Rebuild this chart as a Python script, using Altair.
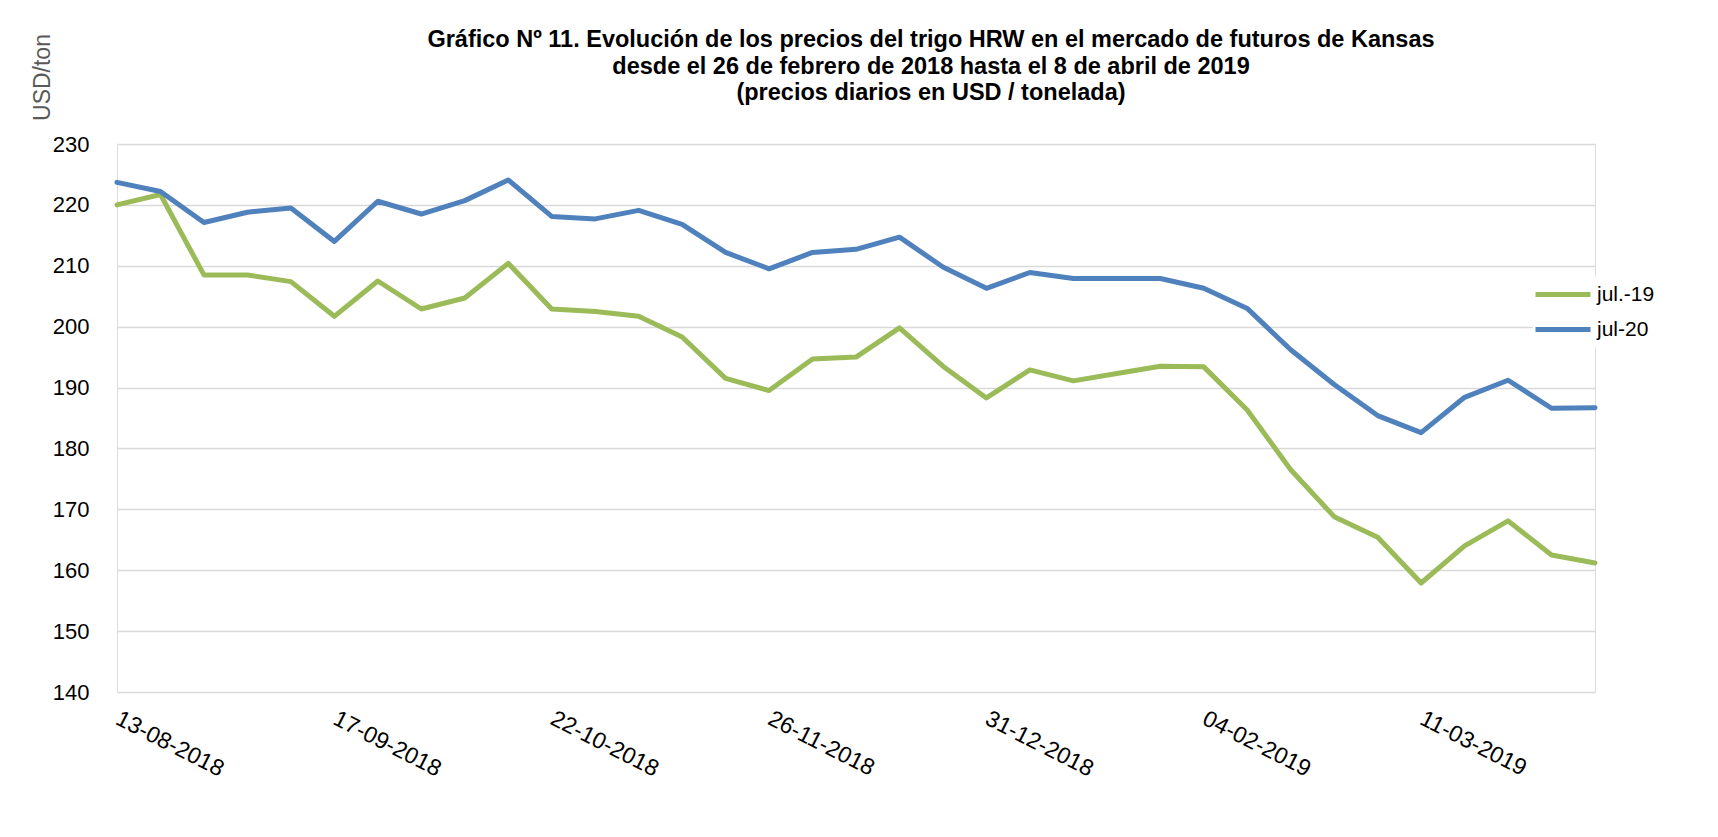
import altair as alt
import pandas as pd

dates = [
    "13-08-2018", "20-08-2018", "27-08-2018", "03-09-2018", "10-09-2018",
    "17-09-2018", "24-09-2018", "01-10-2018", "08-10-2018", "15-10-2018",
    "22-10-2018", "29-10-2018", "05-11-2018", "12-11-2018", "19-11-2018",
    "26-11-2018", "03-12-2018", "10-12-2018", "17-12-2018", "24-12-2018",
    "31-12-2018", "07-01-2019", "14-01-2019", "21-01-2019", "28-01-2019",
    "04-02-2019", "11-02-2019", "18-02-2019", "25-02-2019", "04-03-2019",
    "11-03-2019", "18-03-2019", "25-03-2019", "01-04-2019", "08-04-2019",
]

jul19 = [
    220.0, 221.7, 208.5, 208.5, 207.4, 201.7, 207.5, 202.9, 204.7, 210.4,
    202.9, 202.5, 201.7, 198.3, 191.5, 189.5, 194.7, 195.0, 199.8, 193.5,
    188.3, 192.9, 191.1, 192.3, 193.5, 193.4, 186.3, 176.5, 168.8, 165.4,
    157.9, 164.0, 168.1, 162.5, 161.2,
]

jul20 = [
    223.7, 222.2, 217.1, 218.8, 219.5, 214.0, 220.6, 218.5, 220.7, 224.1,
    218.1, 217.7, 219.1, 216.8, 212.2, 209.5, 212.2, 212.7, 214.7, 209.8,
    206.3, 208.9, 207.9, 207.9, 207.9, 206.3, 203.0, 196.2, 190.5, 185.4,
    182.6, 188.4, 191.2, 186.6, 186.7,
]

series_names = ["jul.-19", "jul-20"]
series_colors = ["#9BBB59", "#4F81BD"]
tick_labels = ["13-08-2018", "17-09-2018", "22-10-2018", "26-11-2018",
               "31-12-2018", "04-02-2019", "11-03-2019"]
y_ticks = [140, 150, 160, 170, 180, 190, 200, 210, 220, 230]

title_lines = [
    "Gráfico Nº 11. Evolución de los precios del trigo HRW en el mercado de futuros de Kansas",
    "desde el 26 de febrero de 2018 hasta el 8 de abril  de 2019",
    "(precios diarios en USD / tonelada)",
]

rows = []
for i, d in enumerate(dates):
    rows.append({"fecha": d, "serie": series_names[0], "valor": jul19[i], "orden": 0})
    rows.append({"fecha": d, "serie": series_names[1], "valor": jul20[i], "orden": 1})
df = pd.DataFrame(rows)

FONT = "Liberation Sans"

chart = (
    alt.Chart(df)
    .mark_line(strokeWidth=5, strokeJoin="round", strokeCap="round")
    .encode(
        x=alt.X(
            "fecha:O",
            sort=dates,
            scale=alt.Scale(type="point", padding=0),
            axis=alt.Axis(
                values=tick_labels,
                title=None,
                labelAngle=27,
                labelAlign="left",
                labelBaseline="top",
                labelPadding=15,
                labelOffset=5,
                labelFontSize=23,
                labelFont=FONT,
                labelColor="#000000",
                labelOverlap=False,
                labelBound=False,
                labelFlush=False,
                ticks=False,
                domain=False,
                grid=False,
            ),
        ),
        y=alt.Y(
            "valor:Q",
            scale=alt.Scale(domain=[140, 230], nice=False, zero=False),
            axis=alt.Axis(
                values=y_ticks,
                title="USD/ton",
                titleFont=FONT,
                titleFontSize=23,
                titleFontWeight="normal",
                titleColor="#595959",
                titleAngle=270,
                titleAlign="center",
                titleBaseline="middle",
                titleX=-75,
                titleY=-67,
                labelFontSize=22,
                labelFont=FONT,
                labelColor="#000000",
                labelPadding=28,
                ticks=False,
                domain=False,
                grid=True,
                gridColor="#d9d9d9",
                gridWidth=1.6,
            ),
        ),
        color=alt.Color(
            "serie:N",
            scale=alt.Scale(domain=series_names, range=series_colors),
            legend=alt.Legend(
                title=None,
                orient="none",
                legendX=1416,
                legendY=133,
                symbolType="stroke",
                symbolSize=3025,
                symbolStrokeWidth=5,
                clipHeight=35,
                rowPadding=0,
                padding=0,
                labelOffset=4,
                labelFont=FONT,
                labelFontSize=21,
                labelColor="#000000",
                fillColor="white",
            ),
        ),
        order=alt.Order("orden:Q"),
    )
    .properties(
        width=1478,
        height=548,
        padding={"left": 109, "top": 136, "right": 115, "bottom": 128},
        autosize=alt.AutoSizeParams(type="none"),
        title=alt.Title(
            text=title_lines,
            font=FONT,
            fontSize=23.5,
            fontWeight="bold",
            color="#000000",
            anchor="middle",
            lineHeight=26.5,
            dx=75,
            dy=71,
            offset=0,
        ),
    )
    .configure_view(stroke=None)
    .configure(background="white")
)

chart.save("out.html", embed_options={"renderer": "svg", "actions": False})
